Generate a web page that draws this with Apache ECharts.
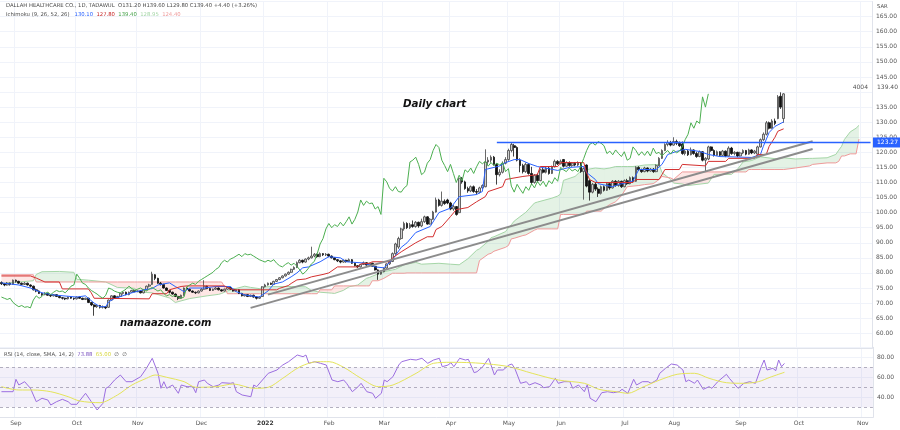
<!DOCTYPE html>
<html><head><meta charset="utf-8">
<script src="https://cdn.jsdelivr.net/npm/echarts/dist/echarts.min.js"></script>
<style>html,body{margin:0;padding:0;background:#fff}#c{width:900px;height:430px}</style>
</head><body><div id="c"></div>
<script>
// ---- data ----
const monthBars = [['Aug',5],['Sep',21],['Oct',21],['Nov',22],['Dec',22],['2022',22],['Feb',19],['Mar',23],['Apr',20],['May',18],['Jun',22],['Jul',17],['Aug',23],['Sep',20],['Oct',22],['Nov',4]];
// [open, close, low, high]
const candles = [
[76.8,76.4,76.0,77.2],[76.4,76.0,75.6,76.6],[76.0,76.6,75.8,77.0],[76.6,76.2,75.8,76.8],[76.2,77.6,76.0,77.8],
[77.6,77.2,76.8,77.8],[77.2,76.6,76.4,77.4],[76.6,76.2,76.0,76.8],[76.2,76.6,76.0,77.0],[76.6,76.0,75.8,76.8],
[76.0,75.6,75.2,76.2],[75.6,74.4,74.2,75.8],[74.4,74.0,73.6,74.8],[74.0,73.2,73.0,74.2],[73.2,72.8,72.4,73.4],
[72.8,73.2,72.6,73.6],[73.2,72.6,72.4,73.4],[72.6,72.4,72.0,72.8],[72.4,72.8,72.2,73.0],[72.8,72.2,72.0,73.0],
[72.2,71.8,71.6,72.4],[71.8,71.6,71.2,72.0],[71.6,71.4,71.0,71.8],[71.4,72.0,71.2,72.2],[72.0,71.6,71.4,72.2],
[71.6,71.4,71.0,71.8],[71.4,72.0,71.2,72.2],[72.0,71.6,71.4,72.2],[71.6,71.2,71.0,71.8],[71.2,71.6,71.0,71.8],
[71.6,70.2,70.0,71.8],[70.2,69.4,69.0,70.4],[69.4,68.8,65.8,69.6],[68.8,69.2,68.4,69.6],[69.2,68.6,68.2,69.4],
[68.6,68.8,68.2,69.2],[68.8,68.4,68.0,69.0],[68.6,71.0,68.4,71.2],[71.0,72.4,70.8,72.6],[72.4,71.6,71.4,72.6],
[71.6,72.2,71.4,72.4],[72.2,73.2,72.0,73.4],[73.2,73.6,72.8,73.8],[73.6,72.8,72.6,73.8],[72.8,73.6,72.6,73.8],
[73.6,74.2,73.4,74.4],[74.2,73.8,73.6,74.4],[73.8,74.0,73.6,74.2],[74.0,73.4,73.2,74.2],[73.4,74.4,73.2,74.6],
[74.4,75.6,74.2,75.8],[75.6,76.0,75.2,76.4],[76.2,79.6,76.0,80.4],[79.4,78.2,77.6,79.6],[78.2,76.6,76.4,78.4],
[76.6,76.2,75.8,77.0],[76.2,75.0,74.8,76.4],[75.0,74.2,74.0,75.2],[74.2,73.6,73.2,74.4],[73.6,73.0,72.8,73.8],
[73.0,72.2,72.0,73.2],[72.2,71.6,71.0,72.4],[71.6,72.6,71.4,72.8],[72.6,75.0,72.4,75.2],[75.0,74.6,74.4,75.4],
[74.6,74.0,73.8,74.8],[74.0,73.6,73.4,74.2],[73.6,73.4,73.0,73.8],[73.4,74.0,73.2,74.2],[74.0,74.6,73.8,75.0],
[74.6,75.6,74.4,77.6],[75.6,74.8,74.6,75.8],[74.8,74.2,74.0,75.0],[74.2,74.6,74.0,74.8],[74.6,75.0,74.4,75.4],
[75.0,74.4,74.2,75.2],[74.4,74.0,73.8,74.6],[74.0,74.6,73.8,74.8],[74.6,75.2,74.4,75.6],[75.2,74.6,74.4,75.4],
[74.6,74.0,73.8,74.8],[74.0,74.4,73.8,74.6],[74.4,73.2,73.0,74.6],[73.2,72.4,72.2,73.4],[72.4,72.8,72.2,73.0],
[72.8,72.2,72.0,73.0],[72.2,72.6,72.0,72.8],[72.6,72.0,71.8,72.8],[72.0,71.6,71.2,72.2],[71.6,72.0,71.4,72.2],
[72.2,75.4,72.0,75.6],[75.4,76.0,75.2,76.4],[76.0,76.6,75.8,76.8],[76.6,76.2,76.0,76.8],[76.2,77.2,76.0,77.4],
[77.2,77.8,77.0,78.0],[77.8,78.4,77.6,78.6],[78.4,79.0,78.2,79.2],[79.0,79.6,78.8,79.8],[79.6,80.2,79.4,80.5],
[80.2,81.2,80.0,81.4],[81.2,81.8,81.0,82.2],[81.8,83.4,81.6,83.8],[83.4,84.2,83.2,84.6],[84.2,83.6,83.2,84.4],
[83.6,84.6,83.4,84.8],[84.6,85.0,84.2,85.4],[85.0,85.6,84.8,88.7],[85.6,86.2,85.2,86.6],[86.2,85.4,85.0,86.4],
[85.4,86.4,85.2,86.8],[86.4,86.0,85.6,86.6],[86.0,86.2,85.6,86.6],[86.2,85.6,85.2,86.4],[85.6,85.0,84.8,85.8],
[85.0,84.4,84.2,85.2],[84.4,84.0,83.6,84.6],[84.0,83.6,83.2,84.2],[83.6,84.2,83.4,84.4],[84.2,83.8,83.4,84.4],
[83.8,84.4,83.6,84.8],[84.4,83.2,83.0,84.6],[83.2,82.4,82.2,83.4],[82.4,82.0,81.6,82.6],[82.0,82.8,81.8,83.0],
[82.8,83.4,82.6,83.8],[83.4,82.6,82.4,83.6],[82.6,83.2,82.4,83.4],[83.2,82.2,82.0,83.4],[82.2,81.0,80.8,82.4],
[81.0,79.6,77.7,81.2],[79.6,80.4,79.4,80.8],[80.4,81.6,80.2,81.8],[81.6,83.0,81.4,83.2],[83.0,83.8,82.6,84.2],
[83.8,86.4,83.6,86.8],[86.4,89.6,86.0,90.0],[88.6,91.4,88.0,92.0],[91.4,94.6,91.0,95.0],[94.6,96.4,94.0,97.0],
[96.4,95.0,94.6,96.8],[95.0,96.0,94.6,96.6],[96.0,95.4,95.0,97.4],[95.4,96.8,95.0,97.2],[96.8,95.6,95.0,97.0],
[95.6,97.0,95.2,98.0],[97.0,98.6,96.6,99.0],[98.6,96.2,96.0,98.8],[96.2,97.8,96.0,98.2],[97.8,100.2,97.6,100.6],
[100.2,104.2,100.0,105.0],[104.2,102.4,102.0,104.6],[102.4,103.8,102.0,107.0],[103.8,103.0,102.6,104.4],[104.2,103.2,102.8,104.6],
[103.2,101.2,100.8,103.6],[101.2,102.0,100.6,102.6],[102.0,99.4,99.0,102.2],[100.0,111.4,99.8,111.6],[111.4,110.2,109.6,111.8],
[110.2,108.0,107.6,110.6],[108.0,107.2,106.6,108.6],[107.2,108.6,106.8,109.0],[108.6,107.0,106.6,109.0],[107.0,106.8,106.0,107.8],
[106.8,108.2,106.4,108.6],[108.2,109.0,107.8,109.4],[108.6,116.8,108.4,121.0],[116.8,117.4,115.8,118.4],[117.4,118.4,116.6,119.0],
[118.4,116.0,115.6,118.8],[116.0,112.6,109.3,116.4],[112.6,113.4,112.0,114.4],[113.4,116.4,113.0,117.0],[116.4,117.6,116.0,118.4],
[117.6,120.6,117.2,121.2],[120.6,122.6,120.0,123.4],[122.2,121.6,118.6,122.8],[121.6,117.4,117.0,122.0],[117.4,115.6,113.4,118.0],
[115.6,113.6,113.0,116.2],[113.6,116.0,113.2,116.6],[116.0,113.0,112.6,116.4],[113.0,110.0,109.3,115.2],[110.0,112.4,109.6,112.8],
[112.4,110.6,110.0,113.0],[110.6,114.2,110.4,114.6],[114.2,113.4,113.0,115.0],[113.4,114.8,113.0,115.2],[114.8,113.0,112.6,115.2],
[113.0,115.2,112.8,115.6],[115.2,117.0,115.0,117.6],[117.0,116.2,115.8,117.4],[116.2,117.0,116.0,117.6],[117.6,115.4,115.0,117.8],
[115.4,116.6,115.2,117.0],[116.6,115.6,115.2,117.0],[115.6,116.4,115.2,116.8],[116.4,115.8,115.4,116.8],[115.8,116.6,115.4,117.0],
[116.6,113.6,113.2,116.8],[113.6,114.6,104.3,115.0],[115.8,108.8,108.4,116.0],[110.6,106.8,104.0,111.0],[106.8,109.4,106.4,109.8],
[109.4,107.8,107.2,110.2],[107.8,106.4,105.2,108.4],[106.4,108.6,106.0,109.0],[108.6,107.4,107.0,109.0],[107.4,109.6,107.2,110.0],
[109.6,108.2,107.6,110.0],[108.2,110.4,108.0,110.8],[110.4,109.0,108.6,110.8],[109.0,110.4,108.6,110.8],[110.4,108.6,108.2,110.6],
[108.6,110.6,108.4,111.0],[110.6,109.6,109.2,111.2],[109.6,111.6,109.4,112.0],[111.6,110.4,110.0,112.0],[110.4,115.0,110.2,115.4],
[115.0,114.2,113.8,115.4],[114.2,113.6,113.2,114.6],[113.6,114.8,113.4,115.2],[114.8,113.8,113.4,115.0],[113.8,114.4,113.6,114.8],
[114.4,113.6,113.2,114.8],[113.6,115.6,113.4,116.0],[115.6,118.0,115.4,118.4],[118.0,120.6,117.8,121.0],[120.6,122.6,120.4,123.0],
[122.6,123.2,122.0,124.0],[123.2,122.4,122.0,123.8],[122.4,123.6,122.2,125.0],[123.6,123.0,122.4,124.2],[123.0,122.2,121.8,123.6],
[122.8,119.6,119.2,123.6],[119.6,120.4,119.0,121.0],[120.4,119.2,118.8,120.8],[119.2,120.8,119.0,121.6],[120.8,119.6,119.2,121.0],
[119.6,118.6,118.2,120.2],[118.6,120.2,118.4,120.6],[120.2,117.4,117.0,120.4],[117.4,118.0,113.6,118.4],[117.8,121.8,117.4,122.2],
[121.8,120.6,120.2,122.0],[120.6,119.0,118.6,121.0],[119.0,120.2,118.8,120.6],[120.2,119.0,118.6,120.4],[119.0,120.4,118.8,120.8],
[120.4,118.8,118.4,120.6],[118.8,121.4,118.6,122.0],[121.4,119.6,119.2,121.8],[119.6,120.0,119.0,120.4],[120.0,118.8,118.4,120.2],
[118.8,119.8,118.6,120.2],[119.8,120.6,119.4,121.0],[120.6,119.4,119.0,120.8],[119.4,120.8,119.2,121.2],[120.8,119.8,119.4,121.0],
[119.8,120.4,119.4,120.8],[119.4,121.8,119.2,122.2],[121.8,124.2,121.6,124.6],[124.2,126.0,123.8,126.6],[126.0,129.8,125.6,130.4],
[129.8,128.0,127.6,130.2],[128.0,130.4,127.8,131.0],[130.4,129.6,129.0,131.2],[131.2,138.4,131.0,139.0],[138.6,135.0,134.4,139.9],
[131.2,139.4,129.8,139.6]
];
// Ichimoku conversion (Tenkan) and base (Kijun) lines: [bar, value]
const tenkan = [[0,76.7],[6,76.0],[10,75.0],[14,73.4],[18,72.7],[26,72.0],[29,72.4],[32,70.0],[34,68.8],[36,68.8],[37,70.4],[39,71.5],[45,73.4],[49,74.4],[52,74.8],[54,76.0],[58,76.7],[60,75.5],[63,73.8],[65,75.0],[70,75.0],[74,75.5],[79,75.5],[81,73.8],[84,72.7],[89,72.0],[92,74.0],[94,76.3],[97,77.0],[100,78.7],[102,80.0],[104,81.7],[106,82.0],[110,83.7],[113,85.4],[117,85.0],[119,83.7],[125,83.3],[129,82.0],[132,81.7],[135,84.4],[138,88.5],[140,90.0],[143,93.4],[148,95.4],[151,100.0],[155,101.5],[158,105.3],[164,106.0],[166,107.0],[167,114.3],[170,115.0],[172,115.5],[174,116.6],[177,117.6],[179,117.6],[182,116.3],[185,115.3],[192,114.0],[196,115.0],[201,115.3],[202,113.3],[205,111.0],[206,109.6],[211,108.6],[213,109.3],[218,110.5],[220,114.3],[226,114.3],[228,116.0],[230,119.3],[233,120.3],[236,121.0],[241,120.3],[244,119.3],[248,118.6],[259,118.3],[262,119.3],[263,122.0],[265,126.6],[267,128.6],[270,130.1]];
const kijun = [[0,79.0],[10,79.0],[12,78.3],[15,77.0],[20,77.0],[21,74.7],[30,74.7],[31,73.4],[32,71.6],[51,71.4],[52,73.1],[57,73.1],[58,74.4],[62,75.5],[64,75.7],[77,75.7],[78,75.2],[80,74.4],[95,74.4],[96,74.9],[99,75.8],[100,76.5],[102,77.7],[105,78.0],[107,78.7],[111,79.5],[113,80.0],[116,82.0],[123,82.0],[124,83.0],[127,83.2],[128,83.7],[134,83.7],[135,85.0],[138,87.0],[143,90.0],[147,92.0],[149,92.0],[150,94.4],[152,95.4],[155,98.7],[157,101.0],[161,101.7],[164,103.6],[167,105.3],[168,107.0],[173,108.6],[174,111.0],[180,112.0],[185,112.6],[186,115.3],[192,115.3],[193,116.6],[201,116.6],[202,113.2],[203,111.0],[205,110.0],[218,110.0],[219,111.0],[227,111.0],[228,112.6],[229,114.3],[234,114.3],[235,116.0],[243,115.5],[244,117.0],[250,117.0],[251,118.0],[260,118.0],[261,119.3],[264,119.3],[265,122.0],[267,125.0],[268,127.0],[270,127.8]];
// leading spans (already shifted 26 bars forward)
const cloudBars = [0,11,12,14,20,25,26,30,36,40,46,47,52,58,60,65,71,75,76,77,78,80,84,86,89,91,100,105,107,109,110,114,115,118,120,123,126,127,128,130,132,135,136,139,140,143,145,151,155,158,161,164,165,168,169,170,174,175,176,177,180,181,184,185,190,192,193,194,198,200,201,202,205,207,208,210,212,214,216,218,220,222,225,227,228,231,232,235,237,244,246,252,254,256,257,258,259,262,267,270,274,279,280,285,288,289,290,291,293,295,296];
const senkouA = [76.5,77.4,79.5,80.4,80.5,80.2,77.9,77.6,77.0,75.2,74.9,73.7,73.4,71.7,70.2,71.5,72.4,72.9,73.2,73.6,74.0,74.6,75.6,75.2,74.8,75.4,75.5,75.4,74.2,73.8,73.6,73.3,73.2,74.2,75.4,76.0,78.2,78.5,78.9,79.7,80.4,81.0,81.2,82.7,82.9,83.5,82.9,83.2,82.9,82.7,84.7,87.5,88.0,90.5,91.7,92.0,93.7,95.0,96.0,97.2,99.4,100.1,103.2,103.5,104.8,105.5,106.2,110.7,112.0,113.8,114.0,114.3,114.8,114.6,114.5,114.8,115.3,115.3,115.3,115.3,115.5,115.8,115.9,116.0,113.3,111.0,109.8,109.5,109.0,109.8,112.7,112.7,114.3,116.8,117.0,117.1,117.3,118.5,117.9,118.2,117.8,118.0,118.0,118.2,119.3,120.7,122.0,124.3,126.8,128.0,128.95];
const senkouB = [79.4,79.4,77.0,77.0,77.0,77.0,77.0,77.0,77.0,77.0,77.0,77.0,77.0,77.0,77.0,77.0,77.0,77.0,77.0,75.5,73.1,73.1,73.1,73.1,73.1,73.1,73.1,73.1,73.1,73.1,74.4,74.4,75.7,75.7,75.7,75.7,75.7,75.7,77.4,77.4,78.2,79.9,79.9,79.9,80.0,80.0,80.0,80.0,80.0,80.0,80.0,80.0,84.1,86.2,86.5,87.2,88.5,89.1,91.3,91.5,92.4,92.6,94.2,94.6,94.6,94.6,99.4,99.4,99.4,99.4,99.4,100.5,100.5,100.5,101.4,102.7,103.6,105.6,108.6,108.8,109.0,109.3,109.6,111.0,112.0,111.5,111.0,113.5,113.5,113.5,113.5,113.5,113.5,113.5,113.5,114.3,114.3,114.3,114.3,114.3,114.8,115.5,116.0,116.5,116.5,117.0,118.8,118.8,119.5,119.5,124.4];
// RSI (14) and its SMA (14): [bar, value]
const rsi = [[0,45.6],[4,45.6],[5,58],[6,52.3],[8,55.6],[10,49],[12,35.6],[14,39],[16,37.3],[17,32.3],[19,35.6],[21,38],[23,35.6],[24,33],[26,33],[29,44],[31,35.6],[33,27.3],[35,34],[36,49],[37,50.6],[39,57.3],[41,62.3],[43,55.6],[45,55.6],[48,60.6],[50,69],[52,79],[54,64],[55,49],[56,55.6],[57,49],[59,52.3],[61,44],[62,52.3],[64,50.6],[66,50.6],[67,44.6],[68,55.6],[70,57.3],[71,54],[73,50.6],[75,52.3],[76,54.6],[79,54],[80,54.6],[81,45.6],[83,42.3],[86,40.6],[87,52.3],[88,50.6],[90,57.3],[92,64],[95,67.3],[97,72.3],[99,75.6],[102,82.3],[104,80.6],[105,82.3],[106,74],[108,75.6],[110,74],[112,72.3],[114,57.3],[116,55.6],[118,57.3],[119,54],[121,45.6],[123,50.6],[124,54],[126,45.6],[128,44],[129,39],[131,44],[132,57.3],[133,55.6],[135,60.6],[137,72.3],[138,75.6],[141,78],[143,77.3],[145,79],[147,74],[149,77.3],[151,79],[152,70.6],[154,72.3],[155,74.6],[156,70.6],[158,79],[160,77.3],[161,78],[163,64.6],[164,65.6],[166,70.6],[168,79],[170,62.3],[171,67.3],[173,67.3],[175,72.3],[176,73.3],[177,69],[179,54],[181,55.6],[182,52.3],[184,54.6],[186,52.3],[187,49.6],[189,50.6],[191,59],[192,54],[194,55.6],[196,55.6],[197,49],[199,52.3],[201,45.6],[202,52.6],[203,39],[205,35.6],[207,44.6],[209,45.6],[211,44.6],[213,45.6],[214,48],[216,44],[218,58],[219,52.3],[221,55.6],[223,55.6],[224,54],[226,57.3],[227,64],[229,69],[231,73.3],[233,72.3],[235,67.3],[236,55.6],[237,57.3],[239,54],[240,57.3],[242,48],[244,50.6],[245,49],[247,55.6],[250,63],[251,59],[253,52.3],[254,49],[256,54],[258,55.6],[260,54],[262,70.6],[263,77.3],[264,67.3],[266,69],[267,66.6],[268,77.3],[269,70.6],[270,73.88]];
const rsiMa = [[0,50.6],[6,47.3],[11,47.3],[17,45.6],[23,40.6],[27,36.3],[34,34.6],[40,42.3],[45,52.3],[50,59],[53,62.3],[57,60],[63,55.6],[67,50],[74,50.6],[80,53.3],[87,49],[92,50],[97,59],[103,70.6],[109,75.6],[113,75.6],[118,70],[124,59],[130,50.6],[135,52.3],[143,64],[149,74],[155,75],[162,74.6],[168,73.3],[175,70.6],[183,64],[192,57.3],[201,54],[206,48],[212,45.6],[216,44],[221,50],[227,57.3],[233,63],[239,64],[244,59],[250,54.6],[256,54],[261,55.6],[265,60],[270,65.0]];
// drawn levels
const trendLower = [[86,68.4],[280,121.1]];
const trendUpper = [[92,72.8],[280,123.7]];
const resistance = 123.27;
const resistanceFrom = 171;
const lastClose = 139.40;
const yTicksHidden = [55, 140, 170];

// ---- build ----
const cats = [];
monthBars.forEach(([m, n], mi) => { for (let k = 0; k < n; k++) cats.push(mi + '|' + k + '|' + m); });
const lastCat = cats.length - 1;
const isMonthStart = (i, v) => { const p = String(v).split('|'); return p[1] === '0' && p[0] !== '0'; };
const closes = candles.map(c => c[1]);
const chikou = closes.map((c, i) => [i - 26, c]).slice(26);
const lineA = cloudBars.map((b, k) => [b, senkouA[k]]);
const lineB = cloudBars.map((b, k) => [b, senkouB[k]]);

const GRID = 'rgba(240,243,250,1)';
const chart = echarts.init(document.getElementById('c'), null, {renderer: 'canvas'});
const small = {fontSize: 5.3, fontFamily: 'DejaVu Sans'};

function renderCloud(params, api) {
  const k = params.dataIndex;
  if (k >= cloudBars.length - 1) return;
  const x0 = cloudBars[k], x1 = cloudBars[k + 1];
  const a0 = senkouA[k], b0 = senkouB[k], a1 = senkouA[k + 1], b1 = senkouB[k + 1];
  const pA0 = api.coord([x0, a0]), pA1 = api.coord([x1, a1]), pB0 = api.coord([x0, b0]), pB1 = api.coord([x1, b1]);
  const green = 'rgba(67,160,71,0.14)', red = 'rgba(244,67,54,0.13)';
  const d0 = a0 - b0, d1 = a1 - b1;
  const ch = [];
  if (d0 * d1 >= 0) {
    ch.push({type: 'polygon', shape: {points: [pA0, pA1, pB1, pB0]}, style: {fill: (d0 + d1) >= 0 ? green : red}});
  } else {
    const t = d0 / (d0 - d1);
    const pc = [pA0[0] + t * (pA1[0] - pA0[0]), pA0[1] + t * (pA1[1] - pA0[1])];
    ch.push({type: 'polygon', shape: {points: [pA0, pc, pB0]}, style: {fill: d0 > 0 ? green : red}});
    ch.push({type: 'polygon', shape: {points: [pc, pA1, pB1]}, style: {fill: d1 > 0 ? green : red}});
  }
  return {type: 'group', children: ch};
}

const lineS = (name, data, color, extra) => Object.assign({
  name, type: 'line', data, xAxisIndex: 0, yAxisIndex: 0, showSymbol: false, symbol: 'none',
  lineStyle: {color, width: 1}, silent: true, animation: false, z: 3
}, extra || {});

const option = {
  animation: false,
  backgroundColor: '#ffffff',
  title: [
    {left: 6, top: 2.8, padding: 0, text: 'DALLAH HEALTHCARE CO., 1D, TADAWUL  O131.20 H139.60 L129.80 C139.40 +4.40 (+3.26%)',
     textStyle: Object.assign({color: '#4a4a4a', fontWeight: 'normal', lineHeight: 6.5}, small)},
    {left: 6, top: 11.8, padding: 0, text: '{n|Ichimoku (9, 26, 52, 26)}   {b|130.10}  {r|127.80}  {g|139.40}  {lg|128.95}  {lr|124.40}',
     textStyle: Object.assign({color: '#4a4a4a', fontWeight: 'normal', lineHeight: 6.5,
       rich: {n: Object.assign({color: '#4a4a4a'}, small), b: Object.assign({color: '#2962ff'}, small), r: Object.assign({color: '#c62828'}, small),
              g: Object.assign({color: '#43a047'}, small), lg: Object.assign({color: '#a5d6a7'}, small), lr: Object.assign({color: '#ef9a9a'}, small)}}, small)},
    {left: 4, top: 351.8, padding: 0, text: '{n|RSI (14, close, SMA, 14, 2)}  {p|73.88}  {y|65.00}  {n|∅}  {n|∅}',
     textStyle: Object.assign({color: '#4a4a4a', fontWeight: 'normal', lineHeight: 6.5,
       rich: {n: Object.assign({color: '#4a4a4a'}, small), p: Object.assign({color: '#7e57c2'}, small), y: Object.assign({color: '#d6d63c'}, small)}}, small)},
    {left: 877, top: 3.8, padding: 0, text: 'SAR', textStyle: Object.assign({color: '#4a4a4a', fontWeight: 'normal', lineHeight: 6.5}, small)},
    {left: 403, top: 98, padding: 0, text: 'Daily chart',
     textStyle: {fontSize: 10.3, fontFamily: 'DejaVu Sans', fontStyle: 'italic', fontWeight: 'bold', color: '#111', lineHeight: 12}},
    {left: 120, top: 317, padding: 0, text: 'namaazone.com',
     textStyle: {fontSize: 10, fontFamily: 'DejaVu Sans', fontStyle: 'italic', fontWeight: 'bold', color: '#111', lineHeight: 12}}
  ],
  grid: [
    {left: 0, top: 1.6, width: 872.9, height: 346.7, containLabel: false},
    {left: 0, top: 347.3, width: 872.9, height: 70, containLabel: false}
  ],
  xAxis: [
    {type: 'category', gridIndex: 0, data: cats, boundaryGap: true,
     axisLabel: {show: false}, axisTick: {show: false},
     axisLine: {show: true, lineStyle: {color: '#e0e3eb', width: 1}},
     splitLine: {show: true, interval: isMonthStart, lineStyle: {color: GRID, width: 1}}},
    {type: 'category', gridIndex: 1, data: cats, boundaryGap: true,
     axisTick: {show: false},
     axisLine: {show: true, lineStyle: {color: '#e0e3eb', width: 1}},
     axisLabel: {show: true, interval: isMonthStart, margin: 3, color: '#555', fontSize: 6, fontFamily: 'DejaVu Sans',
       formatter: v => { const p = String(v).split('|'); return p[2] === '2022' ? '{b|2022}' : p[2]; },
       rich: {b: {fontWeight: 'bold', fontSize: 6, fontFamily: 'DejaVu Sans', color: '#333'}}},
     splitLine: {show: true, interval: isMonthStart, lineStyle: {color: GRID, width: 1}}}
  ],
  yAxis: [
    {type: 'value', gridIndex: 0, position: 'right', min: 55, max: 170, interval: 5, scale: false,
     axisLine: {show: true, lineStyle: {color: '#e0e3eb'}}, axisTick: {show: false},
     axisLabel: {margin: 4, color: '#555', fontSize: 6, fontFamily: 'DejaVu Sans',
       formatter: v => yTicksHidden.indexOf(Math.round(v)) >= 0 ? '' : v.toFixed(2)},
     splitLine: {show: true, lineStyle: {color: GRID, width: 1}}},
    {type: 'value', gridIndex: 1, position: 'right', min: 20, max: 90, interval: 20,
     axisLine: {show: true, lineStyle: {color: '#e0e3eb'}}, axisTick: {show: false},
     axisLabel: {margin: 4, color: '#555', fontSize: 6, fontFamily: 'DejaVu Sans',
       formatter: v => (v <= 20 || v >= 90) ? '' : v.toFixed(2)},
     splitLine: {show: true, lineStyle: {color: GRID, width: 1}}}
  ],
  series: [
    {name: 'cloud', type: 'custom', xAxisIndex: 0, yAxisIndex: 0, renderItem: renderCloud,
     data: lineA.slice(0, -1), encode: {x: 0, y: 1}, silent: true, z: 1, animation: false},
    lineS('Lead 1', lineA, '#a5d6a7', {z: 1.5}),
    lineS('Lead 2', lineB, '#ef9a9a', {z: 1.5}),
    {name: 'price', type: 'candlestick', xAxisIndex: 0, yAxisIndex: 0, data: candles, barWidth: 2.2,
     itemStyle: {color: '#cfcfcf', color0: '#111111', borderColor: '#444444', borderColor0: '#111111', borderWidth: 0.8},
     silent: true, animation: false, z: 2},
    lineS('Conversion', tenkan, '#2962ff'),
    lineS('Base', kijun, '#d32f2f'),
    lineS('Lagging', chikou, '#4caf50'),
    lineS('trendLower', trendLower, '#8c8c8c', {lineStyle: {color: '#8c8c8c', width: 2}, z: 4}),
    lineS('trendUpper', trendUpper, '#8c8c8c', {lineStyle: {color: '#8c8c8c', width: 2}, z: 4}),
    lineS('resistance', [[resistanceFrom, resistance], [lastCat, resistance]], '#2962ff', {lineStyle: {color: '#2962ff', width: 1.6}, z: 4}),
    {name: 'RSI', type: 'line', xAxisIndex: 1, yAxisIndex: 1, data: rsi, showSymbol: false, symbol: 'none',
     lineStyle: {color: '#9c6ee0', width: 1}, silent: true, z: 3,
     markArea: {silent: true, itemStyle: {color: 'rgba(126,87,194,0.09)'}, data: [[{yAxis: 30}, {yAxis: 70}]]},
     markLine: {silent: true, symbol: 'none', label: {show: false},
       lineStyle: {color: '#a09cb0', type: [3, 3], width: 0.8}, data: [{yAxis: 70}, {yAxis: 50}, {yAxis: 30}]}},
    {name: 'RSI MA', type: 'line', xAxisIndex: 1, yAxisIndex: 1, data: rsiMa, showSymbol: false, symbol: 'none',
     smooth: 0.3, lineStyle: {color: '#e4e45a', width: 1}, silent: true, z: 3}
  ]
};
chart.setOption(option);

// price-scale annotations placed through the axis scale
const yRes = chart.convertToPixel({yAxisIndex: 0}, resistance);
const yLast = chart.convertToPixel({yAxisIndex: 0}, lastClose) - 6.5;
chart.setOption({
  graphic: [
    {type: 'rect', shape: {x: 873, y: yRes - 5, width: 27, height: 10}, style: {fill: '#2962ff'}, z: 100},
    {type: 'text', x: 877, y: yRes, style: {text: resistance.toFixed(2), fill: '#ffffff', fontSize: 6, fontFamily: 'DejaVu Sans', verticalAlign: 'middle', align: 'left'}, z: 101},
    {type: 'rect', shape: {x: 874, y: yLast - 4, width: 25, height: 8}, style: {fill: '#ffffff'}, z: 100},
    {type: 'text', x: 877, y: yLast, style: {text: lastClose.toFixed(2), fill: '#555', fontSize: 6, fontFamily: 'DejaVu Sans', verticalAlign: 'middle', align: 'left'}, z: 101},
    {type: 'text', x: 868, y: yLast, style: {text: '4004', fill: '#555', fontSize: 6, fontFamily: 'DejaVu Sans', verticalAlign: 'middle', align: 'right'}, z: 101}
  ]
});
</script>
</body></html>
